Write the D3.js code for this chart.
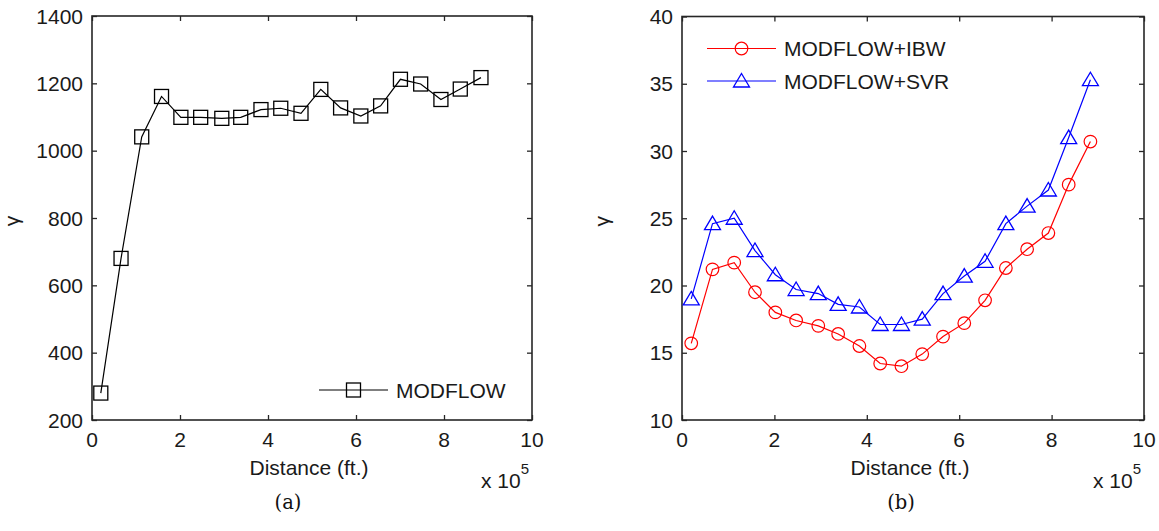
<!DOCTYPE html>
<html>
<head>
<meta charset="utf-8">
<script src="https://cdn.jsdelivr.net/npm/d3@7"></script>
<style>
  html, body { margin: 0; padding: 0; background: #fff; }
  svg { display: block; }
</style>
</head>
<body>
<svg id="fig" width="1159" height="531"></svg>
<script>
// Distance along the transect, in units of 10^5 ft.
const distance = [0.2, 0.66, 1.13, 1.58, 2.02, 2.47, 2.95, 3.38, 3.84, 4.29,
                  4.75, 5.2, 5.65, 6.11, 6.56, 7.01, 7.47, 7.93, 8.37, 8.84];

// Panel (a): MODFLOW
const modflow = [280, 680, 1041, 1161, 1099, 1099, 1096, 1099, 1122, 1126,
                 1111, 1182, 1127, 1103, 1133, 1212, 1198, 1152, 1183, 1217];

// Panel (b): MODFLOW+IBW and MODFLOW+SVR
const modflowIBW = [15.7, 21.2, 21.7, 19.5, 18.0, 17.4, 17.0, 16.4, 15.5, 14.2,
                    14.0, 14.9, 16.2, 17.2, 18.9, 21.3, 22.7, 23.9, 27.5, 30.7];
const modflowSVR = [19.0, 24.6, 25.0, 22.6, 20.8, 19.7, 19.4, 18.6, 18.4, 17.1,
                    17.1, 17.5, 19.4, 20.7, 21.8, 24.6, 25.9, 27.1, 31.0, 35.3];

const xTicks = [0, 2, 4, 6, 8, 10];
const yTicksA = [200, 400, 600, 800, 1000, 1200, 1400];
const yTicksB = [10, 15, 20, 25, 30, 35, 40];

const svg = d3.select("#fig");
const FONT = "'Liberation Sans', Arial, Helvetica, sans-serif";
const AXIS = "#262626";

function panel(opts) {
  const x = d3.scaleLinear().domain([0, 10]).range([opts.left, opts.right]);
  const y = d3.scaleLinear().domain(opts.yDomain).range([opts.bottom, opts.top]);
  const g = svg.append("g");

  // inward ticks on all four sides (boxed axes)
  const tl = 5;
  const axB = d3.axisBottom(x).tickValues(xTicks).tickSize(-tl).tickFormat("");
  const axT = d3.axisTop(x).tickValues(xTicks).tickSize(-tl).tickFormat("");
  const axL = d3.axisLeft(y).tickValues(opts.yTicks).tickSize(-tl).tickFormat("");
  const axR = d3.axisRight(y).tickValues(opts.yTicks).tickSize(-tl).tickFormat("");
  [[axB, `translate(0,${opts.bottom})`], [axT, `translate(0,${opts.top})`],
   [axL, `translate(${opts.left},0)`], [axR, `translate(${opts.right},0)`]].forEach(([ax, t]) => {
    const a = g.append("g").attr("transform", t).call(ax);
    a.select(".domain").remove();
    a.selectAll("line").attr("stroke", AXIS).attr("stroke-width", 1.3);
  });

  g.append("rect")
    .attr("x", opts.left).attr("y", opts.top)
    .attr("width", opts.right - opts.left).attr("height", opts.bottom - opts.top)
    .attr("fill", "none").attr("stroke", AXIS).attr("stroke-width", 1.6);

  // tick labels
  g.selectAll(".xl").data(xTicks).enter().append("text")
    .attr("x", d => x(d)).attr("y", opts.bottom + 27)
    .attr("text-anchor", "middle")
    .attr("font-family", FONT).attr("font-size", 21).attr("fill", "#1a1a1a")
    .text(d => d);
  g.selectAll(".yl").data(opts.yTicks).enter().append("text")
    .attr("x", opts.left - 9).attr("y", d => y(d) + 7.5)
    .attr("text-anchor", "end")
    .attr("font-family", FONT).attr("font-size", 21).attr("fill", "#1a1a1a")
    .text(d => d);

  // axis labels
  g.append("text")
    .attr("x", (opts.left + opts.right) / 2 - 3).attr("y", opts.bottom + 55)
    .attr("text-anchor", "middle")
    .attr("font-family", FONT).attr("font-size", 21).attr("fill", "#1a1a1a")
    .text("Distance (ft.)");
  g.append("text")
    .attr("transform", `translate(${opts.left - 73},${(opts.top + opts.bottom) / 2 + 3}) rotate(-90)`)
    .attr("text-anchor", "middle")
    .attr("font-family", FONT).attr("font-size", 21).attr("fill", "#1a1a1a")
    .text("γ");

  // exponent
  const ex = g.append("text")
    .attr("x", opts.right - 51).attr("y", opts.bottom + 68)
    .attr("font-family", FONT).attr("font-size", 21).attr("fill", "#1a1a1a");
  ex.append("tspan").text("x 10");
  ex.append("tspan").attr("font-size", 15).attr("dy", -14).text("5");

  // caption
  g.append("text")
    .attr("x", opts.captionX).attr("y", opts.bottom + 89)
    .attr("text-anchor", "middle")
    .attr("font-family", "'DejaVu Serif', 'Liberation Serif', serif").attr("font-size", 19.5)
    .attr("fill", "#111")
    .text(opts.caption);

  return { g, x, y };
}

function marker(sel, kind, color) {
  if (kind === "square") {
    sel.append("rect").attr("x", -7).attr("y", -7).attr("width", 14).attr("height", 14)
      .attr("fill", "none").attr("stroke", color).attr("stroke-width", 1.3);
  } else if (kind === "circle") {
    sel.append("circle").attr("r", 6.3)
      .attr("fill", "none").attr("stroke", color).attr("stroke-width", 1.2);
  } else {
    sel.append("path").attr("d", "M0,-7.5L8,6L-8,6Z")
      .attr("fill", "none").attr("stroke", color).attr("stroke-width", 1.3);
  }
}

function series(p, values, color, kind) {
  const line = d3.line().x((d, i) => p.x(distance[i])).y(d => p.y(d));
  p.g.append("path").datum(values)
    .attr("d", line).attr("fill", "none").attr("stroke", color).attr("stroke-width", 1.2);
  p.g.selectAll(null).data(values).enter().append("g")
    .attr("transform", (d, i) => `translate(${p.x(distance[i])},${p.y(d)})`)
    .each(function () { marker(d3.select(this), kind, color); });
}

function legendRow(p, x0, x1, yy, color, kind, label) {
  p.g.append("line").attr("x1", x0).attr("x2", x1).attr("y1", yy).attr("y2", yy)
    .attr("stroke", color).attr("stroke-width", 1.2);
  marker(p.g.append("g").attr("transform", `translate(${(x0 + x1) / 2},${yy})`), kind, color);
  p.g.append("text").attr("x", x1 + 8).attr("y", yy + 7.5)
    .attr("font-family", FONT).attr("font-size", 21).attr("fill", "#1a1a1a")
    .text(label);
}

// (a)
const pa = panel({ left: 92, right: 532, top: 16, bottom: 420,
                   yDomain: [200, 1400], yTicks: yTicksA, caption: "(a)", captionX: 288 });
series(pa, modflow, "#000", "square");
legendRow(pa, 319, 388, 390, "#000", "square", "MODFLOW");

// (b)
const pb = panel({ left: 682, right: 1144, top: 16.5, bottom: 420,
                   yDomain: [10, 40], yTicks: yTicksB, caption: "(b)", captionX: 901 });
series(pb, modflowIBW, "#ff0000", "circle");
series(pb, modflowSVR, "#0000ff", "triangle");
legendRow(pb, 707, 776, 48.5, "#ff0000", "circle", "MODFLOW+IBW");
legendRow(pb, 707, 776, 81, "#0000ff", "triangle", "MODFLOW+SVR");
</script>
</body>
</html>
